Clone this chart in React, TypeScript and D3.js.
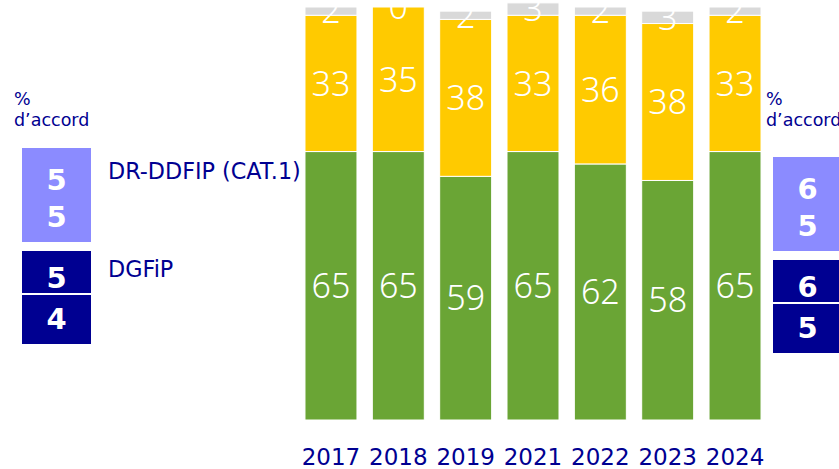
import React, { useEffect } from 'react';
import * as d3 from 'd3';

// survey years and stacked shares (%)
const years = ['2017', '2018', '2019', '2021', '2022', '2023', '2024'];
const agree = [65, 65, 59, 65, 62, 58, 65];
const disagree = [33, 35, 38, 33, 36, 38, 33];
const noAnswer = [2, 0, 2, 3, 2, 3, 2];

// "% d'accord" boxes: first and last year
const groups = ['DR-DDFIP (CAT.1)', 'DGFiP'];
const firstYear = [55, 54];
const lastYear = [65, 65];

const W = 839;
const H = 469;
const NAVY = '#000091';
const LIGHT = '#8b8bff';
const colors = ['#6aa535', '#ffca00', '#d9d9d9'];
const FONT = '"DejaVu Sans", "Noto Sans", sans-serif';
const LABEL_FONT = '"Noto Sans", "Open Sans", sans-serif';

const App = () => {
  useEffect(() => {
    document.body.style.margin = '0';
  }, []);

  const x = d3.scaleBand<string>()
    .domain(years)
    .range([297.3, 768.7])
    .paddingInner(0.228)
    .paddingOuter(0.114);

  const y = d3.scaleLinear().domain([0, 100]).range([420, 7]);

  const rows = years.map((yr, i) => ({ year: yr, agree: agree[i], disagree: disagree[i], noAnswer: noAnswer[i] }));
  const keys = ['agree', 'disagree', 'noAnswer'];
  const series = d3.stack<any>().keys(keys)(rows);

  // legend box: light cell for the first group, two navy cells for the second
  const boxW = 69;
  const legendBox = (x0: number, vals: number[], top: number) => {
    const digitsA = String(vals[0]).split('');
    const digitsB = String(vals[1]).split('');
    return (
      <g>
        <rect x={x0} y={top} width={boxW} height={94} fill={LIGHT} />
        {digitsA.map((d, i) => (
          <text key={'a' + i} x={x0 + boxW / 2} y={top + 42 + i * 37} textAnchor="middle"
            fill="#fff" fontSize={29} fontWeight={700} fontFamily={FONT}>{d}</text>
        ))}
        <rect x={x0} y={top + 103} width={boxW} height={42} fill={NAVY} />
        <rect x={x0} y={top + 147} width={boxW} height={49} fill={NAVY} />
        {digitsB.map((d, i) => (
          <text key={'b' + i} x={x0 + boxW / 2} y={top + 140 + i * 41} textAnchor="middle"
            fill="#fff" fontSize={29} fontWeight={700} fontFamily={FONT}>{d}</text>
        ))}
      </g>
    );
  };

  return (
    <svg width={W} height={H} style={{ display: 'block', background: '#fff' }}>
      {series.map((s, si) => (
        <g key={s.key} fill={colors[si]}>
          {s.map((d, i) => (
            <rect key={i} x={x(years[i])} y={y(d[1])} width={x.bandwidth()}
              height={Math.max(0, y(d[0]) - y(d[1]))} stroke="#fff" strokeWidth={1} />
          ))}
        </g>
      ))}
      {series.map((s) => (
        <g key={'l' + s.key}>
          {s.map((d, i) => (
            <text key={i} x={(x(years[i]) as number) + x.bandwidth() / 2}
              y={(y(d[0]) + y(d[1])) / 2} dy="0.36em" textAnchor="middle"
              fill="#fff" fontSize={34} fontWeight={300} fontFamily={LABEL_FONT}>
              {d[1] - d[0]}
            </text>
          ))}
        </g>
      ))}
      {years.map((yr) => (
        <text key={yr} x={(x(yr) as number) + x.bandwidth() / 2} y={465} textAnchor="middle"
          fill={NAVY} fontSize={23} fontFamily={FONT}>{yr}</text>
      ))}

      {/* left legend */}
      <text x={14} y={105} fill={NAVY} fontSize={17.5} fontFamily={FONT}>%</text>
      <text x={14} y={126} fill={NAVY} fontSize={17.5} fontFamily={FONT}>d’accord</text>
      {legendBox(22, [firstYear[0], firstYear[1]], 148)}
      <text x={108} y={179} fill={NAVY} fontSize={22.3} fontFamily={FONT}>{groups[0]}</text>
      <text x={108} y={277} fill={NAVY} fontSize={22.3} fontFamily={FONT}>{groups[1]}</text>

      {/* right legend */}
      <text x={766} y={105} fill={NAVY} fontSize={17.5} fontFamily={FONT}>%</text>
      <text x={766} y={126} fill={NAVY} fontSize={17.5} fontFamily={FONT}>d’accord</text>
      {legendBox(773, [lastYear[0], lastYear[1]], 157)}
    </svg>
  );
};

export default App;
